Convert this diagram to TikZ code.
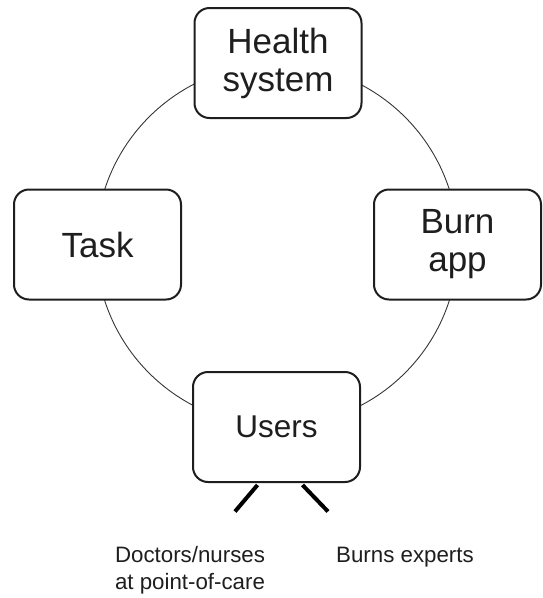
\documentclass[tikz,border=0pt]{standalone}
\usepackage{fontspec}
\setmainfont{Liberation Sans}
\definecolor{ink}{HTML}{1E1E1E}
\begin{document}
\begin{tikzpicture}[x=1pt,y=-1pt,
  box/.style={draw=ink, line width=2pt, rounded corners=15pt, fill=white,
    minimum width=167pt, minimum height=110pt, align=center, inner sep=0pt,
    text=ink, font=\fontsize{35}{38}\selectfont},
  ring/.style={draw=ink!90, line width=0.9pt},
  stub/.style={draw=black, line width=4pt},
  caption/.style={text=ink, font=\fontsize{22.3}{26.5}\selectfont, inner sep=0pt}]
\useasboundingbox (0,0) rectangle (542,598);
\coordinate (c) at (277,245);
\draw[ring] (c) circle[radius=181pt];
\node[box] (health) at (278,63) {Health\\system};
\node[box] (task) at (97.5,244.5) {Task};
\node[box] (burn) at (457.5,244.5) {Burn\\app};
\node[box, font=\fontsize{31.5}{34}\selectfont] (users) at (276.5,427) {Users};
\coordinate (l1) at (257.5,485);
\coordinate (l2) at (235,511.5);
\coordinate (r1) at (302.5,485);
\coordinate (r2) at (328,511.5);
\draw[stub] (l1) -- (l2);
\draw[stub] (r1) -- (r2);
\node[caption, align=left] (doctors) at (190,570) {Doctors/nurses\\at point-of-care};
\node[caption] (experts) at (405,557) {Burns experts};
\end{tikzpicture}
\end{document}
